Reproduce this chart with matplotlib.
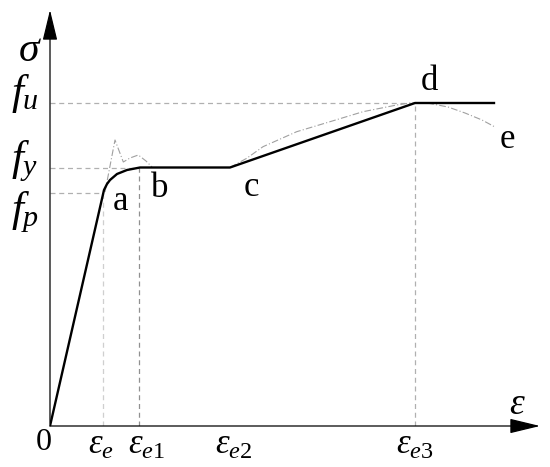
import matplotlib
matplotlib.use("Agg")
import matplotlib.pyplot as plt

plt.rcParams["mathtext.fontset"] = "custom"
plt.rcParams["mathtext.rm"] = "Liberation Serif"
plt.rcParams["mathtext.it"] = "Liberation Serif:italic"
plt.rcParams["font.family"] = "Liberation Serif"

# characteristic strains / stresses (arbitrary units)
eps_e, eps_e1, eps_e2, eps_e3, eps_end = 0.53, 0.89, 1.80, 3.65, 4.44
f_p, f_y, f_u = 2.33, 2.585, 3.23

# simplified model (solid)
eps_model = [0, 0.54, 0.57, 0.60, 0.67, 0.77, 0.90, 1.80, 3.65, 4.44]
sig_model = [0, 2.36, 2.42, 2.46, 2.52, 2.56, 2.585, 2.585, 3.23, 3.23]

# test curve (thin dashed)
eps_test1 = [0.55, 0.65, 0.733, 0.80, 0.883, 0.96, 1.02]
sig_test1 = [2.34, 2.86, 2.64, 2.68, 2.71, 2.65, 2.59]
eps_test2 = [1.80, 1.967, 2.13, 2.467, 2.80, 3.13, 3.467, 3.617, 3.65]
sig_test2 = [2.585, 2.677, 2.793, 2.943, 3.043, 3.143, 3.21, 3.233, 3.23]
eps_test3 = [3.65, 3.80, 3.98, 4.15, 4.32, 4.45]
sig_test3 = [3.23, 3.225, 3.19, 3.13, 3.06, 2.99]

point_labels = ["a", "b", "c", "d", "e"]
point_pos = [(0.71, 2.25), (1.10, 2.38), (2.01, 2.39), (3.79, 3.45), (4.57, 2.87)]

fig = plt.figure(figsize=(5.5, 4.67), dpi=100)
ax = fig.add_axes([50 / 550, 41 / 467, 490 / 550, 416 / 467])
ax.set_xlim(0, 4.9)
ax.set_ylim(0, 4.16)
ax.axis("off")

# axes with arrows
arr = dict(arrowstyle="-|>,head_length=19,head_width=4.6", color="black",
           lw=0.9, shrinkA=0, shrinkB=0, mutation_scale=1)
ax.annotate("", xy=(1, 0), xytext=(0, 0), xycoords="axes fraction", arrowprops=arr)
ax.annotate("", xy=(0, 1), xytext=(0, 0), xycoords="axes fraction", arrowprops=arr)

# guide lines
gl = dict(color="#b0b0b0", lw=0.9, ls=(0, (4, 3)))
ax.plot([0, eps_e3], [f_u, f_u], **gl)
ax.plot([0, eps_e1], [f_y, f_y], **gl)
ax.plot([0, eps_e], [f_p, f_p], **gl)
ax.plot([eps_e, eps_e], [0, f_p], color="#cfcfcf", lw=0.9, ls=(0, (4, 3)))
ax.plot([eps_e1, eps_e1], [0, f_y], color="#909090", lw=0.9, ls=(0, (4, 3)))
ax.plot([eps_e3, eps_e3], [0, f_u], **gl)

# test curve
tl = dict(color="#a0a0a0", lw=0.8, ls=(0, (6, 2, 1, 2)))
ax.plot(eps_test1, sig_test1, **tl)
ax.plot(eps_test2, sig_test2, **tl)
ax.plot(eps_test3, sig_test3, **tl)

# model
ax.plot(eps_model, sig_model, color="black", lw=1.7, solid_joinstyle="round")

for lab, (x, y) in zip(point_labels, point_pos):
    ax.text(x, y, lab, fontsize=25, ha="center", va="center")

# axis labels
ax.text(-0.20, 3.75, r"$\sigma$", fontsize=30, ha="center", va="center", clip_on=False)
ax.text(-0.25, 3.33, r"$f_u$", fontsize=31, ha="center", va="center", clip_on=False)
ax.text(-0.25, 2.65, r"$f_y$", fontsize=31, ha="center", va="center", clip_on=False)
ax.text(-0.25, 2.14, r"$f_p$", fontsize=31, ha="center", va="center", clip_on=False)

ax.text(-0.06, -0.17, "0", fontsize=23, ha="center", va="center", clip_on=False)
ax.text(4.67, 0.21, r"$\varepsilon$", fontsize=27, ha="center", va="center")
xlabs = [r"$\varepsilon_e$", r"$\varepsilon_{\mathit{e1}}$",
         r"$\varepsilon_{\mathit{e2}}$", r"$\varepsilon_{\mathit{e3}}$"]
xpos = [eps_e - 0.02, eps_e1 + 0.08, eps_e2 + 0.04, eps_e3]
for lab, x in zip(xlabs, xpos):
    ax.text(x, -0.19, lab, fontsize=25, ha="center", va="center", clip_on=False)

fig.savefig("out.png", dpi=100)
